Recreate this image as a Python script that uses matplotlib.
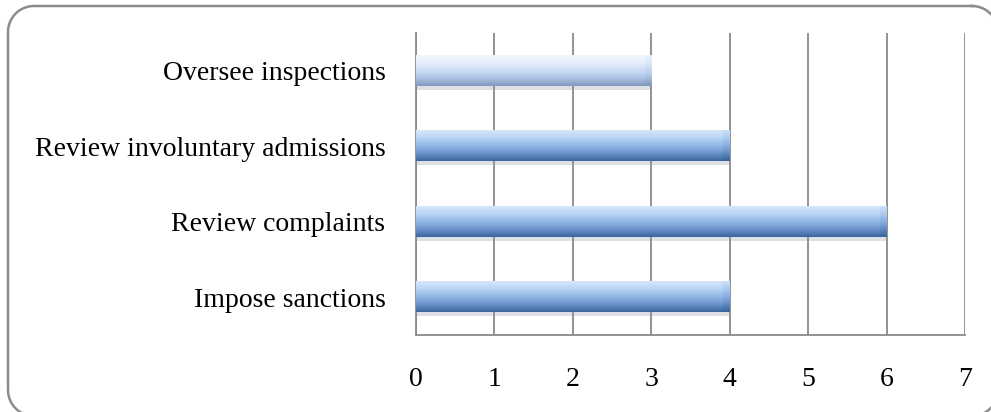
import numpy as np
import matplotlib
matplotlib.use('Agg')
import matplotlib.pyplot as plt
from matplotlib.colors import LinearSegmentedColormap
from matplotlib.patches import Rectangle

# data (top to bottom as shown)
categories = ['Oversee inspections', 'Review involuntary admissions',
              'Review complaints', 'Impose sanctions']
values = [3, 4, 6, 4]
light_bar = [True, False, False, False]
xticks = [0, 1, 2, 3, 4, 5, 6, 7]

plt.rcParams['font.family'] = ['Liberation Serif', 'DejaVu Serif']

fig = plt.figure(figsize=(9.91, 4.12), dpi=100)

# background axes in pixel units for the rounded outer border
bg = fig.add_axes([0, 0, 1, 1])
bg.set_xlim(0, 991)
bg.set_ylim(412, 0)
bg.axis('off')


def rounded_outline(x0, y0, x1, y1, r, steps=20):
    corners = [((x1 - r, y0 + r), -90, 0), ((x1 - r, y1 - r), 0, 90),
               ((x0 + r, y1 - r), 90, 180), ((x0 + r, y0 + r), 180, 270)]
    xs, ys = [], []
    for (cx, cy), a0, a1 in corners:
        t = np.radians(np.linspace(a0, a1, steps))
        xs.extend(cx + r * np.cos(t))
        ys.extend(cy + r * np.sin(t))
    xs.append(xs[0])
    ys.append(ys[0])
    return xs, ys


bx, by = rounded_outline(8, 6, 998, 416, 26)
bg.plot(bx, by, color='#8c8c8c', linewidth=1.8, solid_joinstyle='round')

ax = fig.add_axes([0.4198, 0.1869, 0.5540, 0.7330])

dark_cmap = LinearSegmentedColormap.from_list(
    'dark', ['#d6e7fa', '#b8d4f4', '#92b8e6', '#6a93ca', '#3a669e'])
light_cmap = LinearSegmentedColormap.from_list(
    'light', ['#f2f7fd', '#e4eefa', '#cbdcf2', '#adc3e3', '#8098bc'])

n = len(categories)
ypos = np.arange(n)
height = 0.4
grad = np.linspace(0, 1, 100).reshape(-1, 1)

for y, v, lt in zip(ypos, values, light_bar):
    # soft shadow underneath
    ax.add_patch(Rectangle((0, y - height / 2 + 0.05), v, height,
                           facecolor='#8d96a3', alpha=0.3, edgecolor='none',
                           zorder=2))
    cmap = light_cmap if lt else dark_cmap
    ax.imshow(grad, cmap=cmap, aspect='auto',
              extent=[0, v, y + height / 2, y - height / 2],
              zorder=3, interpolation='bicubic')
    # slightly darker end cap
    ax.imshow(grad, cmap=cmap, aspect='auto', alpha=0.35,
              extent=[v - 0.08, v, y + height / 2, y - height / 2],
              zorder=3.5, vmin=-0.3, vmax=0.9)

ax.set_xlim(0, 7)
ax.set_ylim(n - 0.5, -0.5)
ax.set_xticks(xticks)
ax.set_yticks(ypos)
ax.set_yticklabels(categories)
ax.tick_params(axis='both', length=0, labelsize=20, colors='#000000')
ax.tick_params(axis='x', pad=23)
ax.tick_params(axis='y', pad=22)

ax.grid(axis='x', color='#8a8a8a', linewidth=1.3, zorder=1)
ax.set_axisbelow(True)
for s in ['top', 'right']:
    ax.spines[s].set_visible(False)
ax.spines['left'].set_color('#8a8a8a')
ax.spines['bottom'].set_color('#8a8a8a')
ax.spines['left'].set_linewidth(1.3)
ax.spines['bottom'].set_linewidth(1.3)

fig.savefig('out.png', dpi=100)
